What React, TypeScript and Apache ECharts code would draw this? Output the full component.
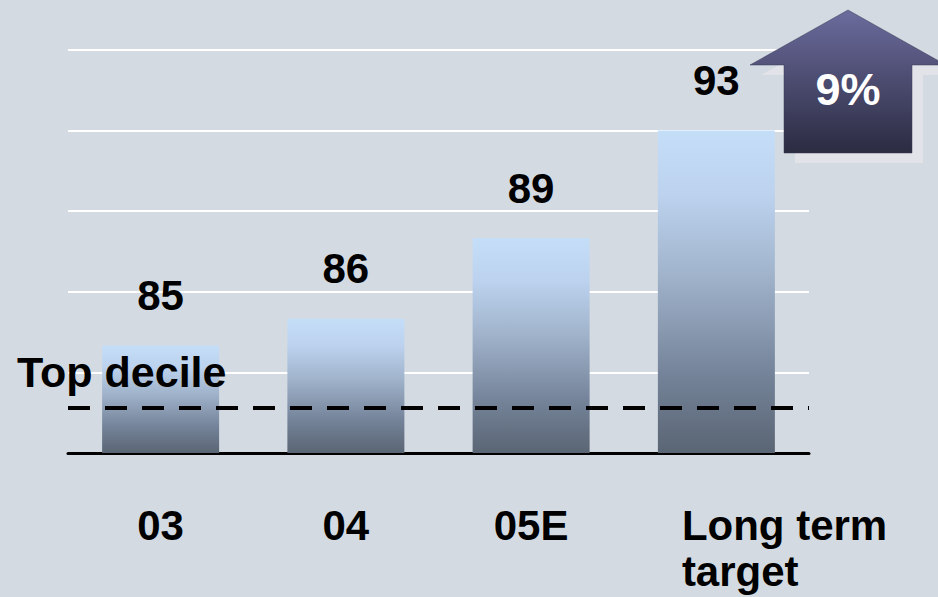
import React, { useEffect, useRef } from "react";
import * as echarts from "echarts";

const categories = ["03", "04", "05E", "Long term\ntarget"];
const values = [85, 86, 89, 93];
const topDecileValue = 82.7;
const topDecileLabel = "Top decile";
const growthLabel = "9%";
const axisMin = 81;
const axisMax = 96;
const axisInterval = 3;

const FONT = "'Liberation Sans', Arial, Helvetica, sans-serif";

export default function App() {
  const ref = useRef<HTMLDivElement>(null);

  useEffect(() => {
    document.body.style.margin = "0";
    const chart = echarts.init(ref.current!, null, { renderer: "svg" });

    const arrowPts = [
      [848, 10],
      [750, 65],
      [784, 65],
      [784, 153],
      [912, 153],
      [912, 65],
      [946, 65],
    ];
    const shadowPts = arrowPts.map(([x, y]) => [x + 11, y + 10]);

    const xData = categories.map((c) =>
      c.includes("\n") ? { value: c, textStyle: { width: 69 } } : c
    );

    chart.setOption({
      animation: false,
      backgroundColor: "#d3dae2",
      grid: { left: 68, right: 129, top: 50, bottom: 144, containLabel: false },
      xAxis: {
        type: "category",
        data: xData,
        axisLine: { show: true, lineStyle: { color: "#000", width: 3 } },
        axisTick: { show: false },
        splitLine: { show: false },
        axisLabel: {
          interval: 0,
          margin: 49,
          color: "#000",
          fontFamily: FONT,
          fontSize: 42,
          fontWeight: "bold",
          lineHeight: 46,
          overflow: "none",
          formatter: (v: string) =>
            v.includes("\n")
              ? v
                  .split("\n")
                  .map((s) => `{lt|${s}}`)
                  .join("\n")
              : v,
          rich: {
            lt: {
              align: "left",
              fontFamily: FONT,
              fontSize: 42,
              fontWeight: "bold",
              lineHeight: 46,
              color: "#000",
            },
          },
        },
      },
      yAxis: {
        type: "value",
        min: axisMin,
        max: axisMax,
        interval: axisInterval,
        axisLine: { show: false },
        axisTick: { show: false },
        axisLabel: { show: false },
        splitLine: { show: true, lineStyle: { color: "#ffffff", width: 2 } },
      },
      series: [
        {
          type: "bar",
          data: values,
          barWidth: 117,
          itemStyle: {
            color: new echarts.graphic.LinearGradient(0, 0, 0, 1, [
              { offset: 0, color: "#c5def8" },
              { offset: 0.2, color: "#bcd2ee" },
              { offset: 0.45, color: "#a0b3cb" },
              { offset: 0.75, color: "#75849a" },
              { offset: 1, color: "#5a6574" },
            ]),
          },
          label: {
            show: true,
            position: "top",
            distance: 29,
            color: "#000",
            fontFamily: FONT,
            fontSize: 42,
            fontWeight: "bold",
          },
          markLine: {
            silent: true,
            symbol: ["none", "none"],
            label: { show: false },
            lineStyle: { color: "#000", width: 4, type: [22, 15] },
            data: [{ yAxis: topDecileValue }],
          },
        },
      ],
      graphic: [
        {
          type: "text",
          left: 17,
          top: 350,
          z: 100,
          style: {
            text: topDecileLabel,
            fill: "#000",
            font: `bold 43px ${FONT}`,
          },
        },
        {
          type: "polygon",
          z: 100,
          shape: { points: shadowPts },
          style: { fill: "#e2e3e8" },
        },
        {
          type: "polygon",
          z: 101,
          shape: { points: arrowPts },
          style: {
            fill: new echarts.graphic.LinearGradient(0, 0, 0, 1, [
              { offset: 0, color: "#6c6c9e" },
              { offset: 1, color: "#2b2b42" },
            ]),
            stroke: "#3a3a55",
            lineWidth: 0.5,
          },
        },
        {
          type: "text",
          z: 102,
          x: 848,
          y: 89,
          style: {
            text: growthLabel,
            fill: "#ffffff",
            font: `bold 45px ${FONT}`,
            align: "center",
            verticalAlign: "middle",
          },
        },
      ],
    });

    return () => chart.dispose();
  }, []);

  return (
    <div
      ref={ref}
      style={{ position: "absolute", left: 0, top: 0, width: 938, height: 597 }}
    />
  );
}
